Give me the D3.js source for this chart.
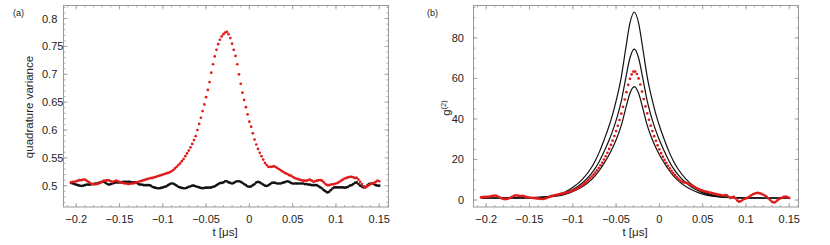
<!DOCTYPE html>
<html>
<head>
<meta charset="utf-8">
<script src="https://cdn.jsdelivr.net/npm/d3@7"></script>
<style>
  body { margin: 0; background: #fff; }
  svg { display: block; }
  text { font-family: "Liberation Sans", Arial, sans-serif; fill: #222; }
</style>
</head>
<body>
<svg id="chart" width="830" height="245"></svg>
<script>
// sampling of the measured traces (t in µs)
const T0 = -0.206, DT = 0.002;

// (a) quadrature variance, red = heralded, black = reference
const quadRed = [
  0.506, 0.507, 0.507, 0.508, 0.509, 0.510, 0.510, 0.511, 0.511, 0.509,
  0.507, 0.505, 0.503, 0.503, 0.5025, 0.503, 0.504, 0.506, 0.507, 0.509,
  0.509, 0.510, 0.5095, 0.508, 0.507, 0.508, 0.509, 0.508, 0.507, 0.506,
  0.505, 0.504, 0.504, 0.503, 0.5035, 0.504, 0.504, 0.505, 0.506, 0.507,
  0.508, 0.509, 0.510, 0.511, 0.512, 0.513, 0.5135, 0.514, 0.515, 0.516,
  0.517, 0.518, 0.519, 0.520, 0.521, 0.522, 0.523, 0.524, 0.526, 0.528,
  0.531, 0.534, 0.537, 0.540, 0.544, 0.548, 0.553, 0.558, 0.563, 0.569,
  0.575, 0.582, 0.589, 0.600, 0.611, 0.622, 0.634, 0.646, 0.659, 0.672,
  0.686, 0.703, 0.718, 0.732, 0.744, 0.754, 0.762, 0.768, 0.772, 0.775,
  0.776, 0.772, 0.765, 0.755, 0.744, 0.733, 0.718, 0.700, 0.683, 0.667,
  0.654, 0.641, 0.628, 0.615, 0.606, 0.594, 0.583, 0.574, 0.566, 0.559,
  0.553, 0.547, 0.541, 0.537, 0.534, 0.534, 0.534, 0.535, 0.534, 0.532,
  0.530, 0.528, 0.526, 0.524, 0.522, 0.521, 0.519, 0.518, 0.516, 0.514,
  0.513, 0.512, 0.511, 0.510, 0.509, 0.509, 0.509, 0.510, 0.511, 0.509,
  0.507, 0.508, 0.509, 0.510, 0.510, 0.509, 0.506, 0.503, 0.501, 0.501,
  0.502, 0.5025, 0.503, 0.504, 0.505, 0.507, 0.509, 0.511, 0.513, 0.514,
  0.515, 0.516, 0.516, 0.515, 0.514, 0.514, 0.511, 0.507, 0.503, 0.499,
  0.497, 0.499, 0.501, 0.503, 0.504, 0.505, 0.507, 0.509, 0.508
];
const quadBlack = [
  0.505, 0.504, 0.503, 0.502, 0.501, 0.500, 0.4995, 0.500, 0.501, 0.502,
  0.502, 0.502, 0.503, 0.503, 0.504, 0.504, 0.505, 0.506, 0.507, 0.507,
  0.505, 0.503, 0.502, 0.503, 0.504, 0.505, 0.506, 0.506, 0.506, 0.506,
  0.507, 0.507, 0.507, 0.507, 0.507, 0.506, 0.506, 0.506, 0.505, 0.503,
  0.502, 0.502, 0.501, 0.501, 0.501, 0.501, 0.500, 0.498, 0.497, 0.496,
  0.4955, 0.4955, 0.496, 0.497, 0.498, 0.499, 0.501, 0.503, 0.504, 0.504,
  0.502, 0.500, 0.498, 0.497, 0.496, 0.4955, 0.4955, 0.4965, 0.498, 0.499,
  0.500, 0.500, 0.499, 0.498, 0.497, 0.496, 0.4955, 0.496, 0.4965, 0.4965,
  0.4965, 0.497, 0.498, 0.499, 0.501, 0.503, 0.5045, 0.505, 0.506, 0.508,
  0.508, 0.506, 0.505, 0.504, 0.505, 0.507, 0.508, 0.508, 0.507, 0.505,
  0.503, 0.501, 0.499, 0.498, 0.499, 0.501, 0.503, 0.506, 0.507, 0.506,
  0.504, 0.502, 0.500, 0.4995, 0.501, 0.503, 0.505, 0.5055, 0.505, 0.504,
  0.504, 0.504, 0.505, 0.506, 0.507, 0.508, 0.507, 0.505, 0.504, 0.504,
  0.504, 0.504, 0.504, 0.504, 0.504, 0.503, 0.503, 0.502, 0.502, 0.501,
  0.501, 0.501, 0.501, 0.499, 0.497, 0.495, 0.492, 0.490, 0.488, 0.489,
  0.492, 0.495, 0.497, 0.497, 0.497, 0.497, 0.497, 0.497, 0.4965, 0.497,
  0.498, 0.500, 0.501, 0.503, 0.505, 0.506, 0.503, 0.500, 0.4985, 0.497,
  0.4975, 0.500, 0.503, 0.504, 0.504, 0.503, 0.501, 0.500, 0.500
];

// (b) g2 measured (red points)
const g2Red = [
  1.3, 1.4, 1.5, 1.5, 1.6, 1.7, 1.9, 2.1, 2.2, 2.0,
  1.6, 1.2, 0.8, 0.5, 0.4, 0.5, 0.8, 1.2, 1.6, 2.1,
  2.3, 2.2, 2.0, 1.9, 2.0, 1.8, 1.5, 1.3, 1.2, 1.1,
  1.0, 0.9, 0.8, 0.7, 0.6, 0.5, 0.5, 0.7, 1.0, 1.4,
  1.7, 2.0, 2.2, 2.4, 2.6, 2.8, 3.0, 3.2, 3.4, 3.6,
  3.8, 4.0, 4.3, 4.6, 5.0, 5.4, 5.9, 6.4, 6.9, 7.6,
  8.3, 9.0, 9.8, 10.7, 11.6, 12.5, 13.5, 14.6, 15.8, 17.1,
  18.5, 20.0, 21.6, 23.3, 25.2, 27.2, 29.3, 31.6, 34.0, 36.6,
  39.5, 42.6, 46.0, 49.6, 53.2, 56.8, 59.8, 62.0, 63.4, 63.4,
  62.2, 60.0, 57.0, 53.5, 49.8, 46.2, 42.8, 39.6, 36.7, 34.0,
  31.5, 29.2, 27.0, 25.0, 23.1, 21.4, 19.8, 18.3, 16.9, 15.6,
  14.4, 13.3, 12.3, 11.3, 10.4, 9.6, 9.0, 8.7, 8.6, 8.4,
  8.0, 7.5, 7.0, 6.5, 6.0, 5.6, 5.2, 4.9, 4.6, 4.3,
  4.1, 3.9, 3.7, 3.5, 3.3, 3.1, 2.9, 2.7, 2.5, 2.3,
  2.2, 2.4, 2.3, 1.6, 1.0, 1.3, 1.6, 0.8, -0.2, -0.8,
  -0.6, 0.0, 0.5, 0.8, 1.2, 1.7, 2.3, 2.8, 3.2, 3.4,
  3.5, 3.3, 3.0, 2.6, 2.2, 1.6, 0.8, 0.0, -0.8, -1.2,
  -1.0, -0.3, 0.4, 0.9, 1.2, 1.5, 1.7, 1.4, 1.0
];

// (b) g2 model curves (black lines)
const g2Times = [
  -0.205, -0.179, -0.149, -0.129, -0.119, -0.109, -0.099, -0.089, -0.079, -0.074,
  -0.069, -0.064, -0.059, -0.054, -0.049, -0.044, -0.039, -0.034, -0.029, -0.024,
  -0.019, -0.014, -0.009, -0.004, 0.001, 0.006, 0.011, 0.016, 0.021, 0.031,
  0.041, 0.051, 0.061, 0.071, 0.091, 0.121, 0.150
];
const g2Outer = [
  1.0, 1.0, 1.2, 1.7, 2.5, 3.9, 6.5, 10.2, 15.7, 19.4,
  24.0, 29.5, 35.4, 42.3, 50.6, 60.7, 74.4, 87.3, 92.8, 87.3,
  74.4, 60.7, 50.6, 42.3, 35.4, 29.5, 24.0, 19.4, 15.7, 10.2,
  6.5, 3.9, 2.5, 1.7, 1.2, 1.0, 1.0
];
const g2Middle = [
  1.0, 1.0, 1.1, 1.6, 2.2, 3.4, 5.4, 8.4, 12.8, 15.7,
  19.4, 23.8, 28.6, 34.1, 40.7, 48.8, 59.8, 70.1, 74.5, 70.1,
  59.8, 48.8, 40.7, 34.1, 28.6, 23.8, 19.4, 15.7, 12.8, 8.4,
  5.4, 3.4, 2.2, 1.6, 1.1, 1.0, 1.0
];
const g2Inner = [
  1.0, 1.0, 1.1, 1.4, 1.9, 2.8, 4.3, 6.5, 9.8, 12.0,
  14.8, 18.1, 21.6, 25.8, 30.7, 36.8, 45.0, 52.7, 56.0, 52.7,
  45.0, 36.8, 30.7, 25.8, 21.6, 18.1, 14.8, 12.0, 9.8, 6.5,
  4.3, 2.8, 1.9, 1.4, 1.1, 1.0, 1.0
];

const xTicks = [-0.2, -0.15, -0.1, -0.05, 0, 0.05, 0.1, 0.15];
const xTickLabels = ["\u22120.2", "\u22120.15", "\u22120.1", "\u22120.05", "0", "0.05", "0.1", "0.15"];
const quadTicks = [0.5, 0.55, 0.6, 0.65, 0.7, 0.75, 0.8];
const quadTickLabels = ["0.5", "0.55", "0.6", "0.65", "0.7", "0.75", "0.8"];
const g2Ticks = [0, 20, 40, 60, 80];
const g2TickLabels = ["0", "20", "40", "60", "80"];

const RED = "#e01a1a";
const FRAME = "#9a9a9a";
const TOP = 5.5, BOTTOM = 207;
const X_DOMAIN = [-0.2147, 0.1607];

const svg = d3.select("#chart");
const times = quadRed.map((_, i) => T0 + i * DT);

function frame(g, x, y, xMinor, yMinor) {
  const [x0, x1] = x.range();
  g.append("rect")
    .attr("x", x0).attr("y", TOP)
    .attr("width", x1 - x0).attr("height", BOTTOM - TOP)
    .attr("fill", "none").attr("stroke", FRAME).attr("stroke-width", 1);

  const tk = g.append("g").attr("stroke", FRAME).attr("stroke-width", 0.8);
  const xs = [...xMinor.map(v => [v, 2]), ...xTicks.map(v => [v, 4])];
  xs.forEach(([v, len]) => {
    const px = x(v);
    tk.append("line").attr("x1", px).attr("x2", px).attr("y1", BOTTOM).attr("y2", BOTTOM - len);
    tk.append("line").attr("x1", px).attr("x2", px).attr("y1", TOP).attr("y2", TOP + len);
  });
  yMinor.forEach(([v, len]) => {
    const py = y(v);
    tk.append("line").attr("x1", x0).attr("x2", x0 + len).attr("y1", py).attr("y2", py);
    tk.append("line").attr("x1", x1).attr("x2", x1 - len).attr("y1", py).attr("y2", py);
  });

  g.append("g").selectAll("text")
    .data(xTicks)
    .join("text")
    .attr("x", d => x(d))
    .attr("y", 223)
    .attr("text-anchor", "middle")
    .attr("font-size", 11)
    .text((d, i) => xTickLabels[i]);

  g.append("text")
    .attr("x", (x0 + x1) / 2 - 1)
    .attr("y", 236)
    .attr("text-anchor", "middle")
    .attr("font-size", 11.5)
    .text("t [\u03bcs]");
}

// ---------- panel (a) ----------
const ga = svg.append("g");
const xa = d3.scaleLinear().domain(X_DOMAIN).range([63.5, 388.5]);
const ya = d3.scaleLinear().domain([0.4618, 0.8235]).range([BOTTOM, TOP]);

const xMinor = d3.range(-0.21, 0.161, 0.01);
const yaMinor = d3.range(0.47, 0.821, 0.01).map(v => [v, 2]).concat(quadTicks.map(v => [v, 4]));
frame(ga, xa, ya, xMinor, yaMinor);

ga.append("g").selectAll("text")
  .data(quadTicks)
  .join("text")
  .attr("x", 42)
  .attr("y", d => ya(d) + 4)
  .attr("font-size", 11)
  .text((d, i) => quadTickLabels[i]);

ga.append("text")
  .attr("transform", "translate(33,107) rotate(-90)")
  .attr("text-anchor", "middle")
  .attr("font-size", 11.5)
  .text("quadrature variance");

ga.append("text").attr("x", 13).attr("y", 16).attr("font-size", 9).text("(a)");

ga.append("g").selectAll("circle")
  .data(quadBlack)
  .join("circle")
  .attr("cx", (d, i) => xa(times[i]))
  .attr("cy", d => ya(d))
  .attr("r", 1.35)
  .attr("fill", "#111");

ga.append("g").selectAll("circle")
  .data(quadRed)
  .join("circle")
  .attr("cx", (d, i) => xa(times[i]))
  .attr("cy", d => ya(d))
  .attr("r", 1.35)
  .attr("fill", RED);

// ---------- panel (b) ----------
const gb = svg.append("g");
const xb = d3.scaleLinear().domain(X_DOMAIN).range([473.5, 798.5]);
const yb = d3.scaleLinear().domain([-3.45, 96]).range([BOTTOM, TOP]);

const ybMinor = d3.range(0, 96, 5).map(v => [v, 2]).concat(g2Ticks.map(v => [v, 4]));
frame(gb, xb, yb, xMinor, ybMinor);

gb.append("g").selectAll("text")
  .data(g2Ticks)
  .join("text")
  .attr("x", 464)
  .attr("y", d => yb(d) + 4)
  .attr("text-anchor", "end")
  .attr("font-size", 11)
  .text((d, i) => g2TickLabels[i]);

const yl = gb.append("text")
  .attr("transform", "translate(450,108) rotate(-90)")
  .attr("text-anchor", "middle")
  .attr("font-size", 11.5);
yl.append("tspan").text("g");
yl.append("tspan").attr("dy", -4).attr("font-size", 7.5).text("(2)");

gb.append("text").attr("x", 427).attr("y", 16).attr("font-size", 9).text("(b)");

const line = d3.line()
  .x((d, i) => xb(g2Times[i]))
  .y(d => yb(d))
  .curve(d3.curveMonotoneX);

[g2Outer, g2Middle, g2Inner].forEach(s => {
  gb.append("path")
    .attr("d", line(s))
    .attr("fill", "none")
    .attr("stroke", "#111")
    .attr("stroke-width", 1.2);
});

gb.append("g").selectAll("circle")
  .data(g2Red)
  .join("circle")
  .attr("cx", (d, i) => xb(times[i]))
  .attr("cy", d => yb(d))
  .attr("r", 1.35)
  .attr("fill", RED);
</script>
</body>
</html>
